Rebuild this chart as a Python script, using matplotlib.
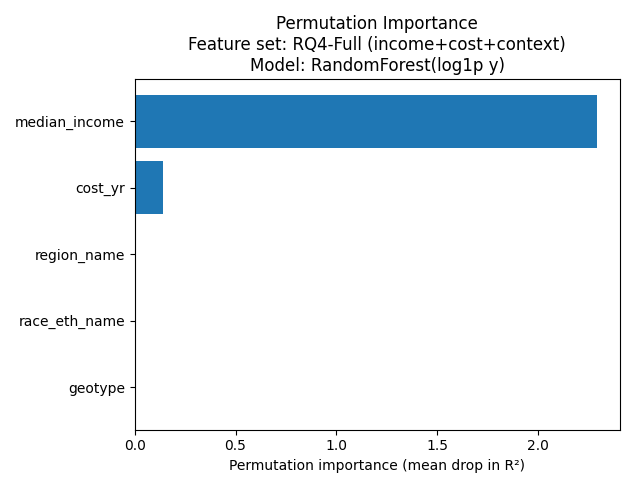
import matplotlib
matplotlib.use("Agg")
import matplotlib.pyplot as plt

features = ["geotype", "race_eth_name", "region_name", "cost_yr", "median_income"]
importance = [0.0, 0.0, 0.0, 0.14, 2.29]

fig, ax = plt.subplots(figsize=(6.35, 4.88), dpi=100)
ax.barh(features, importance, color="#1f77b4")
ax.set_xlabel("Permutation importance (mean drop in R²)")
ax.set_title("Permutation Importance\nFeature set: RQ4-Full (income+cost+context)\nModel: RandomForest(log1p y)")
fig.tight_layout()
fig.savefig("out.png", dpi=100)
